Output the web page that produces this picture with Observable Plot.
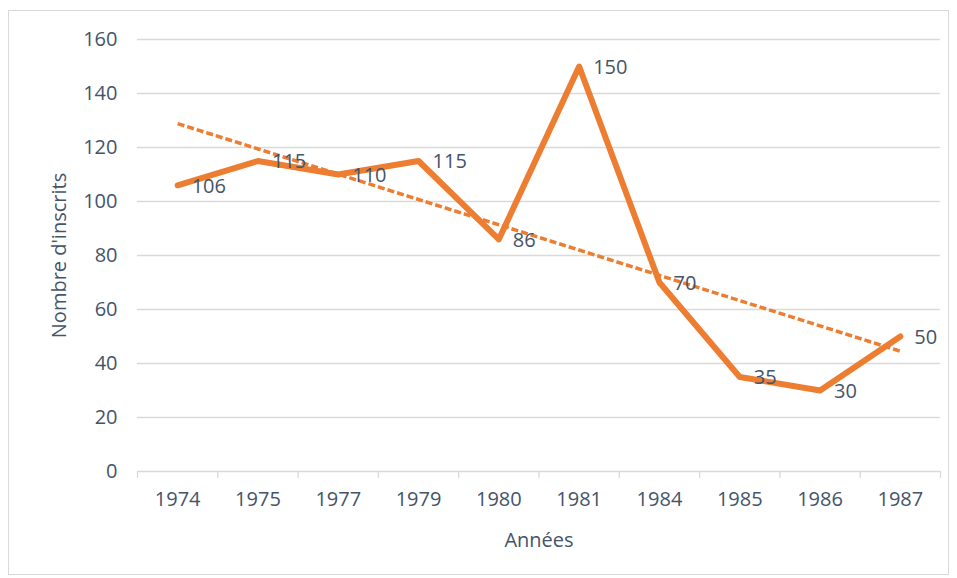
<!DOCTYPE html>
<html>
<head>
<meta charset="utf-8">
<script src="https://cdn.jsdelivr.net/npm/d3@7"></script>
<script src="https://cdn.jsdelivr.net/npm/@observablehq/plot@0.6"></script>
<style>
  html, body { margin: 0; padding: 0; background: #fff; }
  #wrap { position: relative; width: 957px; height: 578px; }
  #border { position: absolute; left: 8px; top: 10px; width: 941px; height: 565px; border: 1px solid #D9D9D9; box-sizing: border-box; pointer-events: none; }
  #chart { position: absolute; left: 0; top: 0; }
</style>
</head>
<body>
<div id="wrap"><div id="chart"></div><div id="border"></div></div>
<script>
const years = ["1974", "1975", "1977", "1979", "1980", "1981", "1984", "1985", "1986", "1987"];
const inscrits = [106, 115, 110, 115, 86, 150, 70, 35, 30, 50];
const yTicks = [0, 20, 40, 60, 80, 100, 120, 140, 160];

const data = years.map((y, i) => ({i, year: y, v: inscrits[i]}));
const boundaries = d3.range(years.length + 1).map(k => k - 0.5);

const orange = "#ED7D31";
const textColor = "#44546A";
const gridColor = "#D9D9D9";

const chart = Plot.plot({
  width: 957,
  height: 578,
  marginLeft: 137,
  marginRight: 17,
  marginTop: 39,
  marginBottom: 107,
  style: {fontFamily: "'Open Sans', sans-serif", fontSize: "20px", color: textColor, background: "transparent"},
  x: {type: "linear", domain: [-0.5, years.length - 0.5]},
  y: {domain: [0, 160]},
  marks: [
    Plot.gridY(yTicks.filter(t => t > 0), {stroke: gridColor, strokeOpacity: 1, strokeWidth: 1.3}),
    Plot.axisY({ticks: yTicks, tickSize: 0, tickPadding: 20, label: "Nombre d'inscrits", labelAnchor: "center", labelArrow: "none", labelOffset: 86, fill: textColor}),
    Plot.ruleY([0], {stroke: gridColor, strokeWidth: 1.3}),
    Plot.axisX({ticks: boundaries, tickFormat: () => "", tickSize: 7, stroke: gridColor, strokeWidth: 1.3, label: null}),
    Plot.axisX({ticks: d3.range(years.length), tickFormat: i => years[i], tickSize: 0, tickPadding: 20, label: "Années", labelAnchor: "center", labelArrow: "none", labelOffset: 75, fill: textColor}),
    Plot.linearRegressionY(data, {x: "i", y: "v", ci: 0, stroke: orange, strokeWidth: 3.5, strokeOpacity: 1, strokeDasharray: "7,3", strokeLinecap: "butt"}),
    Plot.line(data, {x: "i", y: "v", stroke: orange, strokeWidth: 6, strokeLinecap: "round", strokeLinejoin: "round"}),
    Plot.text(data, {x: "i", y: "v", text: d => String(d.v), textAnchor: "start", dx: 14, dy: 1, fill: textColor, fontSize: 20})
  ]
});
document.getElementById("chart").appendChild(chart);
</script>
</body>
</html>
